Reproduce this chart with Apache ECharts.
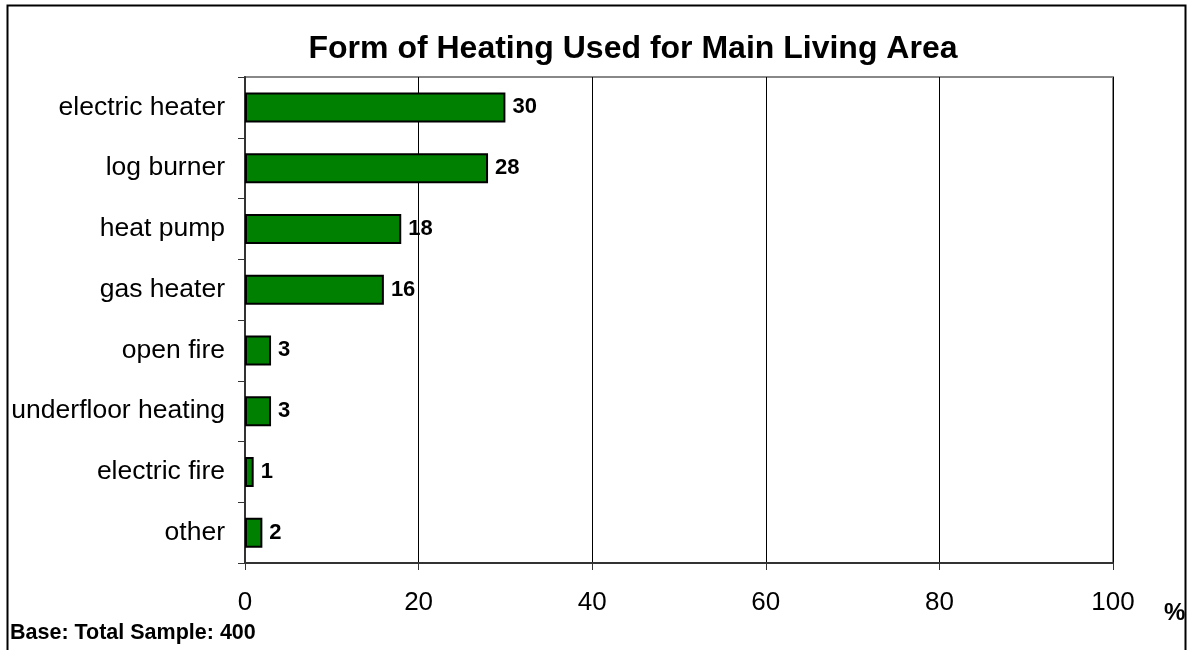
<!DOCTYPE html>
<html>
<head>
<meta charset="utf-8">
<script src="https://cdn.jsdelivr.net/npm/echarts@6/dist/echarts.min.js"></script>
<style>
  html, body { margin: 0; padding: 0; background: #fff; }
  #main { width: 1188px; height: 650px; }
</style>
</head>
<body>
<div id="main"></div>
<script>
// chart data
var categories = ['electric heater', 'log burner', 'heat pump', 'gas heater',
  'open fire', 'underfloor heating', 'electric fire', 'other'];
var percentages = [30, 28, 18, 16, 3, 3, 1, 2];
var xTicks = [0, 20, 40, 60, 80, 100];

var font = 'Liberation Sans, Arial, sans-serif';
var myChart = echarts.init(document.getElementById('main'));

var option = {
  animation: false,
  backgroundColor: '#fff',
  title: {
    text: 'Form of Heating Used for Main Living Area',
    left: 628,
    textAlign: 'center',
    top: 28,
    textStyle: { fontFamily: font, fontSize: 32, fontWeight: 'bold', color: '#000' }
  },
  graphic: [
    {
      type: 'rect',
      shape: { x: 7.5, y: 5.5, width: 1178, height: 660 },
      style: { fill: null, stroke: '#000', lineWidth: 2 },
      silent: true
    },
    {
      type: 'text',
      left: 10,
      top: 622,
      style: { text: 'Base: Total Sample: 400', font: 'bold 21.5px ' + font, fill: '#000' }
    },
    {
      type: 'text',
      left: 1164,
      top: 601,
      style: { text: '%', font: 'bold 24px ' + font, fill: '#000' }
    }
  ],
  grid: {
    left: 245,
    right: 75,
    top: 77,
    bottom: 87,
    show: true,
    borderColor: '#888',
    borderWidth: 2,
    containLabel: false
  },
  xAxis: {
    type: 'value',
    min: xTicks[0],
    max: xTicks[xTicks.length - 1],
    interval: 20,
    axisLine: { show: true, lineStyle: { color: '#333', width: 2 } },
    axisTick: { show: true, length: 7, lineStyle: { color: '#333', width: 1 } },
    axisLabel: { margin: 27, fontFamily: font, fontSize: 26, color: '#000' },
    splitLine: { show: true, lineStyle: { color: '#000', width: 1 } }
  },
  yAxis: {
    type: 'category',
    data: categories,
    inverse: true,
    axisLine: { show: true, lineStyle: { color: '#333', width: 2 } },
    axisTick: { show: true, length: 7, interval: 0, lineStyle: { color: '#333', width: 1 } },
    axisLabel: { margin: 20, fontFamily: font, fontSize: 26.5, color: '#000', interval: 0 },
    splitLine: { show: false }
  },
  series: [{
    type: 'bar',
    data: percentages,
    barWidth: 30,
    itemStyle: { color: '#008000', borderColor: '#000', borderWidth: 2 },
    label: {
      show: true,
      position: 'right',
      distance: 7,
      fontFamily: font,
      fontSize: 22,
      fontWeight: 'bold',
      color: '#000'
    }
  }]
};

myChart.setOption(option);
</script>
</body>
</html>
